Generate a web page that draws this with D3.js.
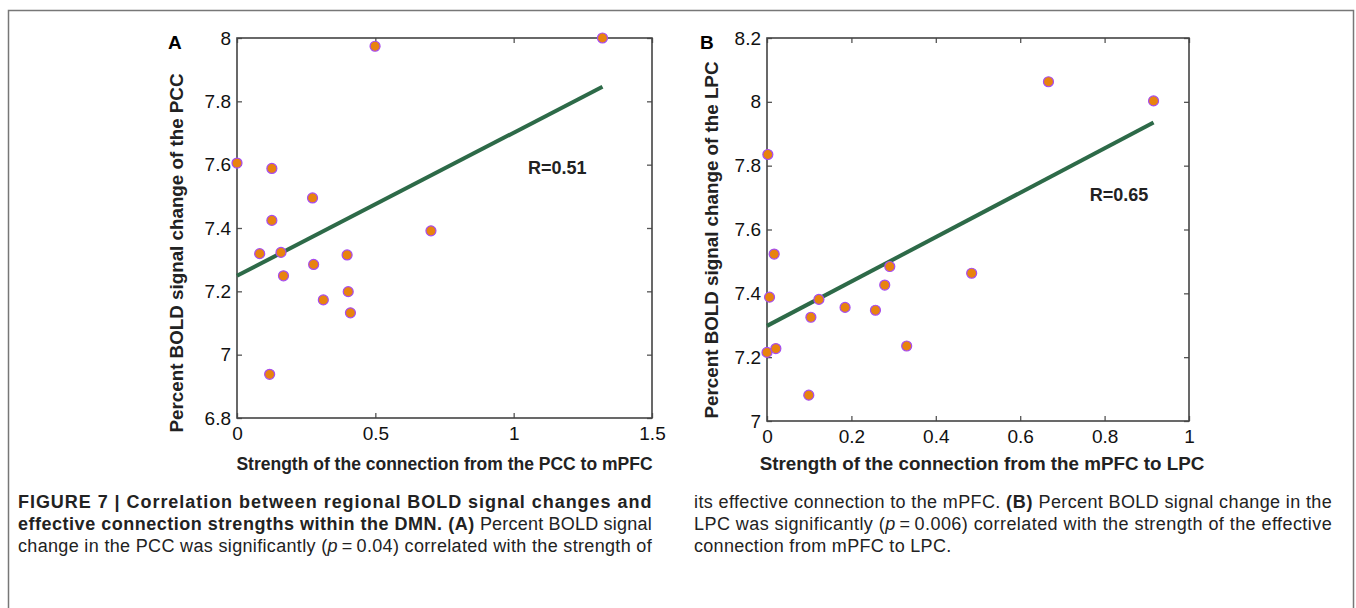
<!DOCTYPE html>
<html>
<head>
<meta charset="utf-8">
<script src="https://cdn.jsdelivr.net/npm/d3@7"></script>
<style>
  body { margin: 0; background: #fff; }
  svg { display: block; font-family: "Liberation Sans", Arial, sans-serif; }
</style>
</head>
<body>
<svg id="fig" width="1356" height="608"></svg>
<script>
// Panel A: PCC -> mPFC strength vs BOLD change in PCC
const strengthA = [0.0, 0.126, 0.126, 0.082, 0.159, 0.168, 0.273, 0.277, 0.312, 0.398, 0.402, 0.410, 0.118, 0.499, 0.701, 1.321];
const boldA     = [7.605, 7.588, 7.424, 7.319, 7.323, 7.249, 7.495, 7.285, 7.173, 7.315, 7.199, 7.132, 6.938, 7.974, 7.391, 8.0];
const fitA = [[0, 7.249], [1.321, 7.846]];
const xTicksA = [0, 0.5, 1, 1.5];
const yTicksA = [6.8, 7, 7.2, 7.4, 7.6, 7.8, 8];

// Panel B: mPFC -> LPC strength vs BOLD change in LPC
const strengthB = [0.002, 0.006, 0.0, 0.017, 0.021, 0.099, 0.104, 0.123, 0.185, 0.257, 0.279, 0.291, 0.331, 0.485, 0.667, 0.916];
const boldB     = [7.835, 7.388, 7.215, 7.523, 7.227, 7.081, 7.325, 7.381, 7.356, 7.347, 7.426, 7.484, 7.235, 7.463, 8.063, 8.003];
const fitB = [[0, 7.298], [0.916, 7.935]];
const xTicksB = [0, 0.2, 0.4, 0.6, 0.8, 1];
const yTicksB = [7, 7.2, 7.4, 7.6, 7.8, 8, 8.2];

const svg = d3.select("#fig");

// outer figure frame
svg.append("rect")
    .attr("x", 8.5).attr("y", 10.5)
    .attr("width", 1345).attr("height", 640)
    .attr("fill", "none").attr("stroke", "#777").attr("stroke-width", 1.5);

function drawPanel(opts) {
    const x = d3.scaleLinear().domain(opts.xDomain).range([opts.left, opts.right]);
    const y = d3.scaleLinear().domain(opts.yDomain).range([opts.bottom, opts.top]);
    const g = svg.append("g");
    const tick = 5;

    // inward ticks on all four sides (matlab box)
    g.append("g").attr("transform", `translate(0,${opts.bottom})`)
        .call(d3.axisBottom(x).tickValues(opts.xTicks).tickSizeInner(-tick).tickSizeOuter(0).tickPadding(9).tickFormat(d3.format("~g")));
    g.append("g").attr("transform", `translate(0,${opts.top})`)
        .call(d3.axisTop(x).tickValues(opts.xTicks).tickSizeInner(-tick).tickSizeOuter(0).tickFormat(""));
    g.append("g").attr("transform", `translate(${opts.left},0)`)
        .call(d3.axisLeft(y).tickValues(opts.yTicks).tickSizeInner(-tick).tickSizeOuter(0).tickPadding(6).tickFormat(d3.format("~g")));
    g.append("g").attr("transform", `translate(${opts.right},0)`)
        .call(d3.axisRight(y).tickValues(opts.yTicks).tickSizeInner(-tick).tickSizeOuter(0).tickFormat(""));

    g.selectAll(".domain").remove();
    g.selectAll(".tick line").attr("stroke", "#555").attr("stroke-width", 1.3);
    g.selectAll(".tick text").attr("font-size", 19).attr("fill", "#111")
        .attr("font-family", "Liberation Sans, Arial, sans-serif");

    g.append("rect")
        .attr("x", opts.left).attr("y", opts.top)
        .attr("width", opts.right - opts.left).attr("height", opts.bottom - opts.top)
        .attr("fill", "none").attr("stroke", "#444").attr("stroke-width", 1.6);

    // regression line
    g.append("path")
        .datum(opts.fit)
        .attr("d", d3.line().x(d => x(d[0])).y(d => y(d[1])))
        .attr("stroke", "#2d6a48").attr("stroke-width", 4).attr("fill", "none");

    // points
    g.selectAll("circle").data(opts.xs.map((v, i) => [v, opts.ys[i]]))
        .join("circle")
        .attr("cx", d => x(d[0])).attr("cy", d => y(d[1]))
        .attr("r", 5)
        .attr("fill", "#e8830e").attr("stroke", "#a64cf0").attr("stroke-width", 1.2);

    g.append("text").attr("x", x(opts.rPos[0])).attr("y", y(opts.rPos[1]))
        .attr("font-size", 18).attr("font-weight", "bold").attr("fill", "#222")
        .attr("dominant-baseline", "middle")
        .text(opts.rLabel);

    // panel letter
    g.append("text").attr("x", opts.letterX).attr("y", 49)
        .attr("font-size", 19).attr("font-weight", "bold").text(opts.letter);

    // axis titles
    g.append("text")
        .attr("x", (opts.left + opts.right) / 2 + opts.xLabelShift).attr("y", 470)
        .attr("text-anchor", "middle").attr("font-size", opts.xLabelSize).attr("font-weight", "bold").attr("fill", "#222")
        .text(opts.xLabel);
    g.append("text")
        .attr("transform", `translate(${opts.yLabelX},${opts.yLabelY}) rotate(-90)`)
        .attr("text-anchor", "middle").attr("font-size", 18.8).attr("font-weight", "bold").attr("fill", "#222")
        .text(opts.yLabel);
}

drawPanel({
    left: 237, right: 652, top: 38, bottom: 418,
    xDomain: [0, 1.5], yDomain: [6.8, 8],
    xTicks: xTicksA, yTicks: yTicksA,
    xs: strengthA, ys: boldA, fit: fitA,
    rLabel: "R=0.51", rPos: [1.052, 7.586],
    letter: "A", letterX: 168,
    xLabel: "Strength of the connection from the PCC to mPFC", xLabelSize: 17.5, xLabelShift: 0,
    yLabel: "Percent BOLD signal change of the PCC", yLabelX: 183, yLabelY: 253
});

drawPanel({
    left: 767, right: 1189, top: 38, bottom: 421,
    xDomain: [0, 1], yDomain: [7, 8.2],
    xTicks: xTicksB, yTicks: yTicksB,
    xs: strengthB, ys: boldB, fit: fitB,
    rLabel: "R=0.65", rPos: [0.765, 7.703],
    letter: "B", letterX: 700,
    xLabel: "Strength of the connection from the mPFC to LPC", xLabelSize: 18.8, xLabelShift: 4,
    yLabel: "Percent BOLD signal change of the LPC", yLabelX: 718, yLabelY: 240
});

// caption, two justified columns
const captionLeft = [
    [["FIGURE 7 | Correlation between regional BOLD signal changes and", "b"]],
    [["effective connection strengths within the DMN. (A)", "b"], [" Percent BOLD signal", "n"]],
    [["change in the PCC was significantly (", "n"], ["p", "i"], ["\u2009=\u20090.04) correlated with the strength of", "n"]]
];
const captionRight = [
    [["its effective connection to the mPFC. ", "n"], ["(B)", "b"], [" Percent BOLD signal change in the", "n"]],
    [["LPC was significantly (", "n"], ["p", "i"], ["\u2009=\u20090.006) correlated with the strength of the effective", "n"]],
    [["connection from mPFC to LPC.", "n"]]
];

function drawCaption(lines, x0, width, justifyLast) {
    const t = svg.append("g").attr("font-family", "Liberation Sans, Arial, sans-serif")
        .attr("font-size", 18).attr("fill", "#222");
    lines.forEach((parts, i) => {
        const line = t.append("text").attr("x", x0).attr("y", 508 + i * 22);
        parts.forEach(p => {
            line.append("tspan")
                .attr("font-weight", p[1] === "b" ? "bold" : "normal")
                .attr("font-style", p[1] === "i" ? "italic" : "normal")
                .attr("letter-spacing", p[1] === "b" ? 0.6 : 0.3)
                .text(p[0]);
        });
        if (i < lines.length - 1 || justifyLast) {
            line.attr("textLength", width).attr("lengthAdjust", "spacing");
        }
    });
}
drawCaption(captionLeft, 18, 634, true);
drawCaption(captionRight, 694, 638, false);
</script>
</body>
</html>
